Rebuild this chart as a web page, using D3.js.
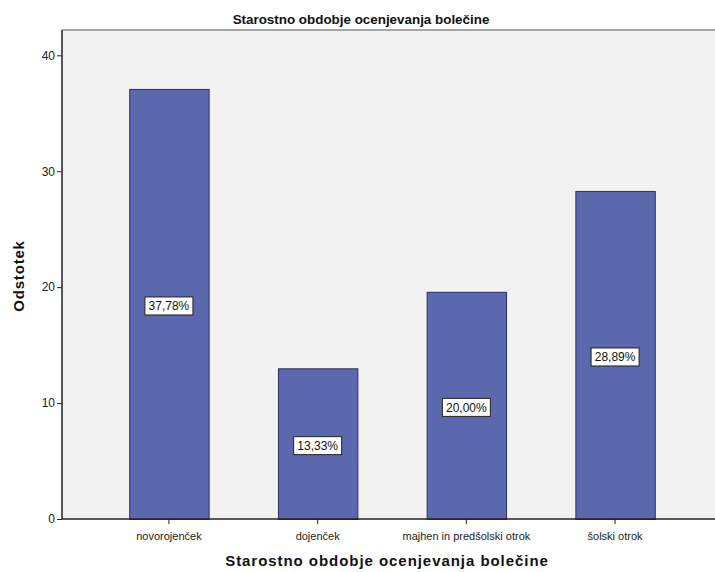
<!DOCTYPE html>
<html>
<head>
<meta charset="utf-8">
<style>
  body { margin: 0; background: #fff; }
  svg { display: block; font-family: "Liberation Sans", Arial, sans-serif; }
</style>
</head>
<body>
<svg width="715" height="572"></svg>
<script src="https://d3js.org/d3.v7.min.js"></script>
<script>
// data
var categories = ["novorojenček", "dojenček", "majhen in predšolski otrok", "šolski otrok"];
var barValues = [37.1, 13.0, 19.6, 28.3];        // bar heights as drawn
var percents = [37.78, 13.33, 20.00, 28.89];     // printed labels
var yTicks = [0, 10, 20, 30, 40];

var svg = d3.select("svg");
var plotL = 62, plotT = 30, plotB = 519, plotR = 722;

var x = d3.scaleBand().domain(categories).range([plotL, plotR])
    .paddingInner(0.466).paddingOuter(0.452);
var y = d3.scaleLinear().domain([0, 40]).range([plotB, 55.3]);

// plot background
svg.append("rect").attr("x", plotL).attr("y", plotT)
  .attr("width", plotR - plotL).attr("height", plotB - plotT)
  .attr("fill", "#f2f2f2");
svg.append("line").attr("x1", plotL).attr("x2", 715).attr("y1", plotT).attr("y2", plotT)
  .attr("stroke", "#8a8a8a").attr("stroke-width", 1.5);

// bars
svg.selectAll(".bar").data(categories).enter().append("rect")
  .attr("class", "bar")
  .attr("x", function(d) { return x(d) + 0.5; })
  .attr("y", function(d, i) { return y(barValues[i]) + 0.5; })
  .attr("width", x.bandwidth())
  .attr("height", function(d, i) { return y(0) - y(barValues[i]); })
  .attr("fill", "#5b68ae").attr("stroke", "#2b3060").attr("stroke-width", 1);

// value labels
var lab = svg.selectAll(".lab").data(categories).enter().append("g")
  .attr("class", "lab")
  .attr("transform", function(d, i) {
    return "translate(" + (x(d) + x.bandwidth() / 2) + "," + ((y(barValues[i]) + y(0)) / 2 + 2) + ")";
  });
lab.append("rect").attr("x", -24).attr("y", -9).attr("width", 48).attr("height", 18)
  .attr("fill", "#fff").attr("stroke", "#222").attr("stroke-width", 1);
lab.append("text").attr("text-anchor", "middle").attr("dy", "0.36em")
  .attr("font-size", 12).attr("fill", "#111")
  .text(function(d, i) { return percents[i].toFixed(2).replace(".", ",") + "%"; });

// y axis
var yAxis = svg.append("g").attr("transform", "translate(" + plotL + ",0)")
  .call(d3.axisLeft(y).tickValues(yTicks).tickSize(5).tickPadding(2));
yAxis.select(".domain").attr("d", "M0," + plotT + "V" + plotB).attr("stroke", "#222").attr("stroke-width", 1.5);
yAxis.selectAll(".tick line").attr("stroke", "#222");
yAxis.selectAll("text").attr("font-size", 12).attr("fill", "#222").attr("font-family", "Liberation Sans, Arial, sans-serif");

// x axis
var xAxis = svg.append("g").attr("transform", "translate(0," + plotB + ")")
  .call(d3.axisBottom(x).tickSize(5).tickPadding(8));
xAxis.select(".domain").attr("d", "M" + plotL + ",0H715").attr("stroke", "#222").attr("stroke-width", 1.5);
xAxis.selectAll(".tick line").attr("stroke", "#222");
xAxis.selectAll("text").attr("font-size", 11).attr("fill", "#222").attr("font-family", "Liberation Sans, Arial, sans-serif");

// titles
svg.append("text").attr("x", 361).attr("y", 24).attr("text-anchor", "middle")
  .attr("font-size", 13.4).attr("font-weight", "bold").attr("fill", "#111")
  .text("Starostno obdobje ocenjevanja bolečine");
svg.append("text").attr("x", 387).attr("y", 566).attr("text-anchor", "middle")
  .attr("font-size", 15).attr("font-weight", "bold").attr("fill", "#111")
  .attr("letter-spacing", 0.95)
  .text("Starostno obdobje ocenjevanja bolečine");
svg.append("text").attr("transform", "translate(24,276) rotate(-90)")
  .attr("text-anchor", "middle")
  .attr("font-size", 15).attr("font-weight", "bold").attr("fill", "#111")
  .attr("letter-spacing", 0.8)
  .text("Odstotek");
</script>
</body>
</html>
